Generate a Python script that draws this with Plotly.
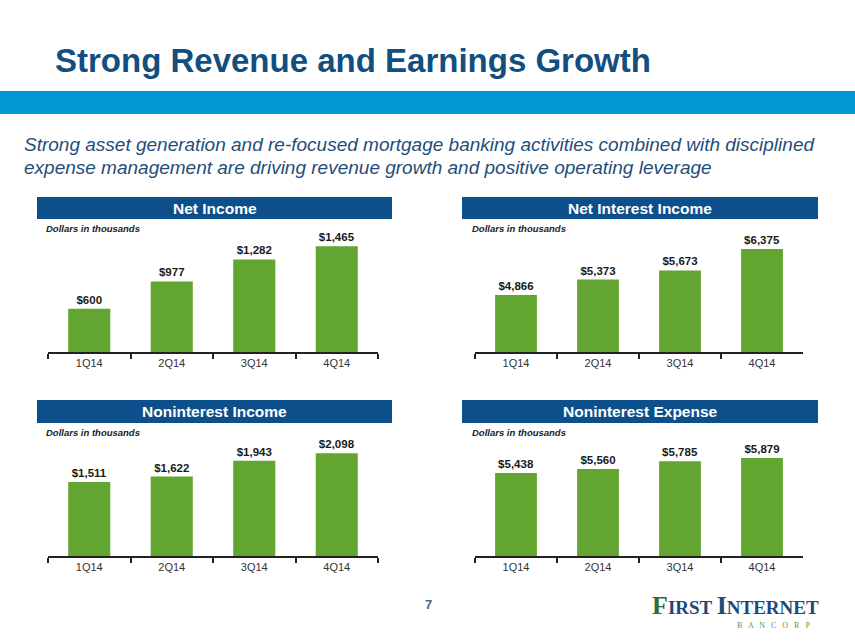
import plotly.graph_objects as go

W, H = 855, 641

quarters = ["1Q14", "2Q14", "3Q14", "4Q14"]
net_income = [600, 977, 1282, 1465]
net_interest_income = [4866, 5373, 5673, 6375]
noninterest_income = [1511, 1622, 1943, 2098]
noninterest_expense = [5438, 5560, 5785, 5879]

panel_titles = ["Net Income", "Net Interest Income", "Noninterest Income", "Noninterest Expense"]
panel_series = [net_income, net_interest_income, noninterest_income, noninterest_expense]
panel_ranges = [[0, 1662], [3000, 6934], [0, 2449], [3000, 6529]]

title_text = "Strong Revenue and Earnings Growth"
subtitle_lines = [
    "Strong asset generation and re-focused mortgage banking activities combined with disciplined",
    "expense management are driving revenue growth and positive operating leverage",
]
units_text = "Dollars in thousands"

GREEN = "#62a530"
NAVY = "#0d4f8b"
TITLE_BLUE = "#124f80"
SUB_BLUE = "#1f4e79"
FONT = "Arial, Liberation Sans, sans-serif"


def px_x(x):
    return x / W


def px_y(y):
    return 1 - y / H


cols = [(48, 378, 37, 392, 44), (475, 803, 462, 818, 470)]
rows = [(232, 352, 197, 219, 228), (436, 556, 400, 423, 432)]

fig = go.Figure()
shapes = []
annotations = []

idx = 0
for r in rows:
    for c in cols:
        n = idx + 1
        xa = "x" if n == 1 else f"x{n}"
        ya = "y" if n == 1 else f"y{n}"
        vals = panel_series[idx]
        fig.add_trace(go.Bar(
            x=quarters, y=vals, xaxis=xa, yaxis=ya,
            marker=dict(color=GREEN, line=dict(width=0)),
            text=[f"${v:,}" for v in vals],
            textposition="outside",
            constraintext="none",
            cliponaxis=False,
            textfont=dict(family=FONT, size=11.5, color="#1a1a1a"),
            texttemplate="<b>%{text}</b>",
            hoverinfo="skip",
            showlegend=False,
        ))
        xkey = "xaxis" if n == 1 else f"xaxis{n}"
        ykey = "yaxis" if n == 1 else f"yaxis{n}"
        fig.update_layout(**{
            xkey: dict(
                domain=[px_x(c[0]), px_x(c[1])], anchor=ya,
                showline=True, linecolor="#222", linewidth=1.5,
                ticks="outside", tickson="boundaries", ticklen=5, tickcolor="#222", tickwidth=1.5,
                tickfont=dict(family=FONT, size=11, color="#333"),
                showgrid=False, zeroline=False, fixedrange=True,
            ),
            ykey: dict(
                domain=[px_y(r[1]), px_y(r[0])], anchor=xa,
                range=panel_ranges[idx], visible=False, showgrid=False, fixedrange=True,
            ),
        })
        shapes.append(dict(type="rect", xref="paper", yref="paper",
                           x0=px_x(c[2]), x1=px_x(c[3]), y0=px_y(r[3]), y1=px_y(r[2]),
                           fillcolor=NAVY, line=dict(width=0), layer="below"))
        annotations.append(dict(xref="paper", yref="paper",
                                x=px_x((c[2] + c[3]) / 2), y=px_y((r[2] + r[3]) / 2),
                                text=f"<b>{panel_titles[idx]}</b>", showarrow=False,
                                xanchor="center", yanchor="middle",
                                font=dict(family=FONT, size=15.5, color="white")))
        annotations.append(dict(xref="paper", yref="paper",
                                x=px_x(c[4]), y=px_y(r[4]),
                                text=f"<b><i>{units_text}</i></b>", showarrow=False,
                                xanchor="left", yanchor="middle",
                                font=dict(family=FONT, size=9.5, color="#222")))
        idx += 1

shapes.append(dict(type="rect", xref="paper", yref="paper",
                   x0=0, x1=1, y0=px_y(114), y1=px_y(91),
                   fillcolor="#0098d3", line=dict(width=0), layer="below"))

annotations.append(dict(xref="paper", yref="paper", x=px_x(53), y=px_y(60),
                        text=f"<b>{title_text}</b>", showarrow=False,
                        xanchor="left", yanchor="middle",
                        font=dict(family=FONT, size=33, color=TITLE_BLUE)))
for i, line in enumerate(subtitle_lines):
    annotations.append(dict(xref="paper", yref="paper", x=px_x(22), y=px_y(145 + 23 * i),
                            text=f"<i>{line}</i>", showarrow=False,
                            xanchor="left", yanchor="middle",
                            font=dict(family=FONT, size=19, color=SUB_BLUE)))

annotations.append(dict(xref="paper", yref="paper", x=px_x(428), y=px_y(604),
                        text="<b>7</b>", showarrow=False, xanchor="center", yanchor="middle",
                        font=dict(family=FONT, size=13, color="#4d6a85")))

annotations.append(dict(xref="paper", yref="paper", x=px_x(650), y=px_y(605),
                        text=("<b><span style='font-size:26px;fill:#2f6e3a'>F</span>IRST "
                              "<span style='font-size:26px'>I</span>NTERNET</b>"),
                        showarrow=False, xanchor="left", yanchor="middle",
                        font=dict(family="Liberation Serif, DejaVu Serif, serif", size=19, color="#1d4a78")))
annotations.append(dict(xref="paper", yref="paper", x=px_x(773), y=px_y(625),
                        text="B   A   N   C   O   R   P", showarrow=False, xanchor="center", yanchor="middle",
                        font=dict(family="Liberation Serif, DejaVu Serif, serif", size=8, color="#5a9a3a")))

fig.update_layout(
    width=W, height=H,
    margin=dict(l=0, r=0, t=0, b=0),
    paper_bgcolor="white", plot_bgcolor="white",
    bargap=0.49,
    shapes=shapes, annotations=annotations,
    showlegend=False,
)

fig.write_html("out.html", config={"displayModeBar": False},
               post_script="document.body.style.margin='0';document.body.style.overflow='hidden';")
